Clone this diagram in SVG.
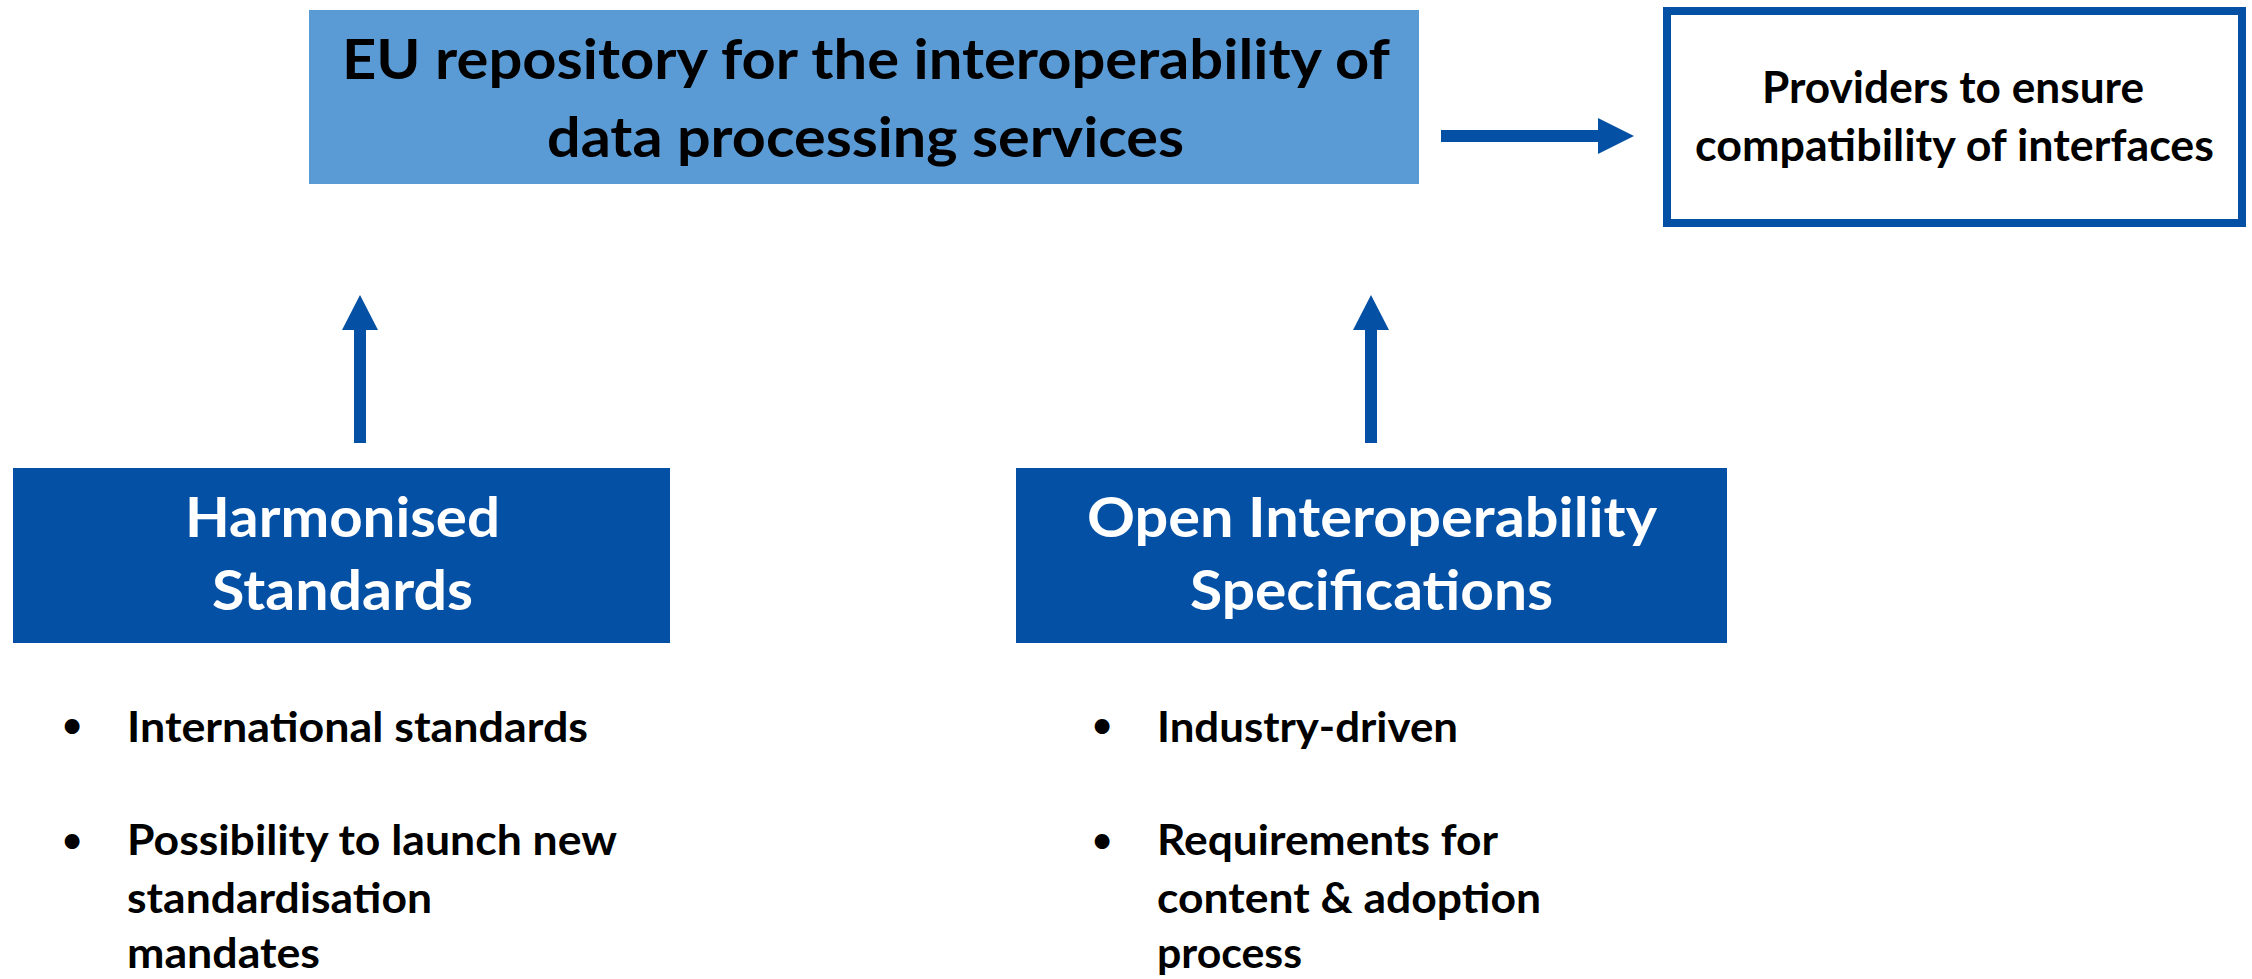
<svg xmlns="http://www.w3.org/2000/svg" width="2252" height="979" viewBox="0 0 2252 979">
<style>
text{font-family:Lato,"Open Sans","Liberation Sans",sans-serif;font-weight:bold;}
.blk{fill:#000;}
.wht{fill:#fff;}
.dark{fill:#0450A5;}
.arrow{fill:#0450A5;}
.bul{font-size:34px;text-anchor:middle;}
.note{font-size:42px;}
</style>
<rect width="2252" height="979" fill="#fff"/>
<g id="repository">
<rect x="309" y="10" width="1110" height="174" fill="#5B9BD5"/>
<text class="blk" x="342" y="79" font-size="56" textLength="1048" lengthAdjust="spacingAndGlyphs">EU repository for the interoperability of</text>
<text class="blk" x="547" y="157" font-size="56" textLength="637" lengthAdjust="spacingAndGlyphs">data processing services</text>
</g>
<g id="providers">
<rect x="1667" y="11" width="575" height="212" fill="#fff" stroke="#0450A5" stroke-width="8"/>
<text class="blk" x="1762" y="103" font-size="43" textLength="382" lengthAdjust="spacingAndGlyphs">Providers to ensure</text>
<text class="blk" x="1695" y="161" font-size="43" textLength="519" lengthAdjust="spacingAndGlyphs">compatibility of interfaces</text>
</g>
<g id="harmonised">
<rect class="dark" x="13" y="468" width="657" height="175"/>
<text class="wht" x="185" y="537" font-size="55" textLength="315" lengthAdjust="spacingAndGlyphs">Harmonised</text>
<text class="wht" x="212" y="610" font-size="55" textLength="261" lengthAdjust="spacingAndGlyphs">Standards</text>
</g>
<g id="open-specs">
<rect class="dark" x="1016" y="468" width="711" height="175"/>
<text class="wht" x="1087" y="537" font-size="55" textLength="570" lengthAdjust="spacingAndGlyphs">Open Interoperability</text>
<text class="wht" x="1190" y="610" font-size="55" textLength="363" lengthAdjust="spacingAndGlyphs">Specifications</text>
</g>
<g id="harmonised-notes">
<text class="blk bul" x="72" y="737">•</text>
<text class="blk note" x="127" y="742" textLength="461" lengthAdjust="spacingAndGlyphs">International standards</text>
<text class="blk bul" x="72" y="852">•</text>
<text class="blk note" x="127" y="855" textLength="490" lengthAdjust="spacingAndGlyphs">Possibility to launch new</text>
<text class="blk note" x="127" y="913" textLength="305" lengthAdjust="spacingAndGlyphs">standardisation</text>
<text class="blk note" x="127" y="968" textLength="193" lengthAdjust="spacingAndGlyphs">mandates</text>
</g>
<g id="open-notes">
<text class="blk bul" x="1102" y="737">•</text>
<text class="blk note" x="1157" y="742" textLength="301" lengthAdjust="spacingAndGlyphs">Industry-driven</text>
<text class="blk bul" x="1102" y="852">•</text>
<text class="blk note" x="1157" y="855" textLength="341" lengthAdjust="spacingAndGlyphs">Requirements for</text>
<text class="blk note" x="1157" y="913" textLength="384" lengthAdjust="spacingAndGlyphs">content &amp; adoption</text>
<text class="blk note" x="1157" y="968" textLength="145" lengthAdjust="spacingAndGlyphs">process</text>
</g>
<g id="connectors">
<path class="arrow" d="M1441,130 H1598 V118 L1634,136 L1598,154 V142 H1441 Z"/>
<path class="arrow" d="M354,443 V330 H342 L360,295 L378,330 H366 V443 Z"/>
<path class="arrow" d="M1365,443 V330 H1353 L1371,295 L1389,330 H1377 V443 Z"/>
</g>
</svg>
